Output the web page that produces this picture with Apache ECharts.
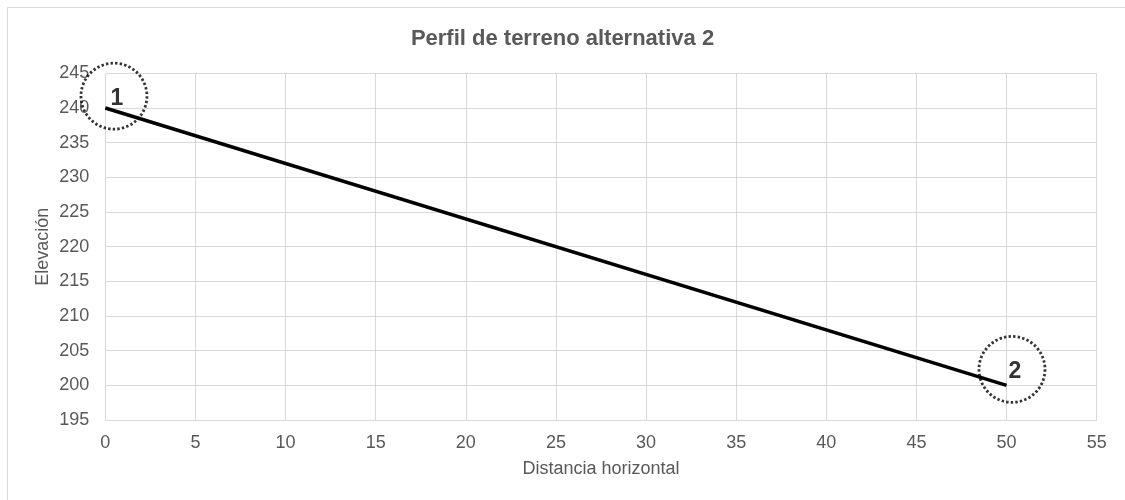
<!DOCTYPE html>
<html>
<head>
<meta charset="utf-8">
<script src="https://cdn.jsdelivr.net/npm/echarts@6/dist/echarts.min.js"></script>
<style>
  html, body { margin: 0; padding: 0; background: #fff; }
  #chart { width: 1125px; height: 500px; }
</style>
</head>
<body>
<div id="chart"></div>
<script>
// Terrain profile: horizontal distance vs elevation
const distance = [0, 50];
const elevation = [240, 200];

// Station markers (dotted circles with their numbers)
const stationNames = ['1', '2'];
const stationX = [0.48, 50.3];
const stationY = [241.7, 202.3];

const xTicks = { min: 0, max: 55, interval: 5 };
const yTicks = { min: 195, max: 245, interval: 5 };

const FONT = '"Liberation Sans", Arial, sans-serif';
const GRID_COLOR = '#d9d9d9';
const TEXT_COLOR = '#595959';

const chart = echarts.init(document.getElementById('chart'), null, { renderer: 'canvas' });

chart.setOption({
  backgroundColor: '#ffffff',
  animation: false,
  textStyle: { fontFamily: FONT },
  graphic: [{
    type: 'rect',
    shape: { x: 7.5, y: 7.5, width: 1300, height: 1000 },
    style: { fill: 'none', stroke: GRID_COLOR, lineWidth: 1 },
    silent: true,
    z: -1
  }],
  title: {
    text: 'Perfil de terreno alternativa 2',
    left: 'center',
    top: 23,
    textStyle: { fontFamily: FONT, fontSize: 22, fontWeight: 'bold', color: TEXT_COLOR }
  },
  grid: { left: 105.3, right: 28.3, top: 73.3, bottom: 80 },
  xAxis: {
    type: 'value',
    min: xTicks.min, max: xTicks.max, interval: xTicks.interval,
    name: 'Distancia horizontal',
    nameLocation: 'middle',
    nameGap: 40,
    nameMoveOverlap: false,
    nameTextStyle: { fontFamily: FONT, fontSize: 18, color: TEXT_COLOR },
    axisLine: { lineStyle: { color: GRID_COLOR, width: 1 } },
    axisTick: { show: false },
    axisLabel: { fontFamily: FONT, fontSize: 18, color: TEXT_COLOR, margin: 14 },
    splitLine: { show: true, lineStyle: { color: GRID_COLOR, width: 1 } }
  },
  yAxis: {
    type: 'value',
    min: yTicks.min, max: yTicks.max, interval: yTicks.interval,
    name: 'Elevación',
    nameLocation: 'middle',
    nameGap: 53,
    nameMoveOverlap: false,
    nameTextStyle: { fontFamily: FONT, fontSize: 18, color: TEXT_COLOR },
    axisLine: { show: true, lineStyle: { color: GRID_COLOR, width: 1 } },
    axisTick: { show: false },
    axisLabel: { fontFamily: FONT, fontSize: 18, color: TEXT_COLOR, margin: 16 },
    splitLine: { show: true, lineStyle: { color: GRID_COLOR, width: 1 } }
  },
  series: [
    {
      type: 'line',
      data: distance.map((d, i) => [d, elevation[i]]),
      showSymbol: false,
      symbol: 'none',
      lineStyle: { color: '#000000', width: 3.5 },
      z: 3
    },
    {
      type: 'scatter',
      data: stationX.map((x, i) => ({ value: [x, stationY[i]], name: stationNames[i] })),
      symbol: 'circle',
      symbolSize: 66,
      clip: false,
      itemStyle: {
        color: 'rgba(0,0,0,0)',
        borderColor: '#000000',
        borderWidth: 2.8,
        borderType: [2.4, 2.2]
      },
      label: {
        show: true,
        position: 'inside',
        offset: [3, 2.5],
        formatter: p => p.name,
        fontFamily: FONT,
        fontSize: 23,
        fontWeight: 'bold',
        color: '#000000'
      },
      z: 4
    }
  ]
});
</script>
</body>
</html>
